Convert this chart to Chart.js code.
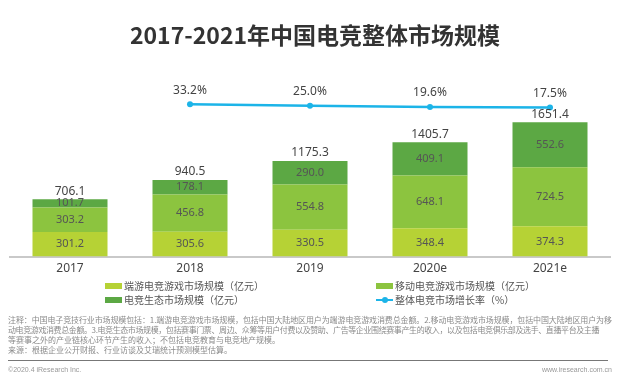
<!DOCTYPE html>
<html>
<head>
<meta charset="utf-8">
<script src="https://cdn.jsdelivr.net/npm/chart.js@4/dist/chart.umd.min.js"></script>
<style>
  html, body { margin: 0; padding: 0; background: #fff; }
  #page { position: relative; width: 627px; height: 392px; overflow: hidden; font-family: "Noto Sans CJK SC", "Noto Sans", sans-serif; }
  #chart { position: absolute; left: 0; top: 0; }
  .title { position: absolute; left: 0; width: 630px; top: 17px; text-align: center; font-size: 23px; font-weight: bold; color: #333; line-height: 34px; }
  .lg { position: absolute; font-size: 10px; color: #555; line-height: 12px; white-space: nowrap; }
  .lg i { display: inline-block; width: 17px; height: 6px; vertical-align: middle; margin-right: 2px; position: relative; top: -1px; }
  .lg i.ln { height: 2px; background: #1cb4e8; }
  .lg i.ln:after { content: ""; position: absolute; left: 6px; top: -2px; width: 6px; height: 6px; border-radius: 3px; background: #1cb4e8; }
  .note { position: absolute; left: 8px; font-size: 8px; color: #8a8a8a; line-height: 10px; white-space: nowrap; }
  .sep { position: absolute; left: 8px; width: 600px; top: 360px; border-top: 1.5px solid #777; }
  .foot { position: absolute; top: 366px; font-size: 7px; color: #999; font-family: "Liberation Sans", sans-serif; }
</style>
</head>
<body>
<div id="page">
  <canvas id="chart" width="627" height="392"></canvas>
  <div class="title">2017-2021年中国电竞整体市场规模</div>

  <div class="lg" style="left:105px; top:280px;"><i style="background:#b6d235"></i>端游电竞游戏市场规模（亿元）</div>
  <div class="lg" style="left:376px; top:280px;"><i style="background:#8cc43f"></i>移动电竞游戏市场规模（亿元）</div>
  <div class="lg" style="left:105px; top:294px;"><i style="background:#5ca844"></i>电竞生态市场规模（亿元）</div>
  <div class="lg" style="left:376px; top:294px;"><i class="ln"></i>整体电竞市场增长率（%）</div>

  <div class="note" style="top:315px; letter-spacing:-0.12px;">注释：中国电子竞技行业市场规模包括：1.端游电竞游戏市场规模，包括中国大陆地区用户为端游电竞游戏消费总金额。2.移动电竞游戏市场规模，包括中国大陆地区用户为移</div>
  <div class="note" style="top:325px; letter-spacing:-0.4px;">动电竞游戏消费总金额。3.电竞生态市场规模，包括赛事门票、周边、众筹等用户付费以及赞助、广告等企业围绕赛事产生的收入，以及包括电竞俱乐部及选手、直播平台及主播</div>
  <div class="note" style="top:335px;">等赛事之外的产业链核心环节产生的收入；不包括电竞教育与电竞地产规模。</div>
  <div class="note" style="top:345px;">来源：根据企业公开财报、行业访谈及艾瑞统计预测模型估算。</div>
  <div class="sep"></div>
  <div class="foot" style="left:8px;">©2020.4 iResearch Inc.</div>
  <div class="foot" style="right:15px;">www.iresearch.com.cn</div>
</div>
<script>
// data
const years = ['2017', '2018', '2019', '2020e', '2021e'];
const pcGame = [301.2, 305.6, 330.5, 348.4, 374.3];      // 端游电竞游戏市场规模
const mobileGame = [303.2, 456.8, 554.8, 648.1, 724.5];  // 移动电竞游戏市场规模
const ecosystem = [101.7, 178.1, 290.0, 409.1, 552.6];   // 电竞生态市场规模
const totals = [706.1, 940.5, 1175.3, 1405.7, 1651.4];
const growth = [null, 33.2, 25.0, 19.6, 17.5];           // 整体电竞市场增长率 (%)

const COLORS = {
    pc: '#b6d235',
    mobile: '#8cc43f',
    eco: '#5ca844',
    line: '#1cb4e8',
    text: '#555'
};
const FONT = '"Noto Sans", "Noto Sans CJK SC", sans-serif';

// value labels: inside segments, totals on top, percentages above the line
const valueLabels = {
    id: 'valueLabels',
    afterDatasetsDraw(chart) {
        const ctx = chart.ctx;
        ctx.save();
        ctx.textAlign = 'center';
        ctx.textBaseline = 'middle';

        ctx.font = '11px ' + FONT;
        ctx.fillStyle = COLORS.text;
        for (let di = 0; di < 3; di++) {
            const meta = chart.getDatasetMeta(di);
            meta.data.forEach((bar, i) => {
                const v = chart.data.datasets[di].data[i];
                ctx.fillText(v.toFixed(1), bar.x, (bar.y + bar.base) / 2);
            });
        }

        ctx.font = '12px ' + FONT;
        ctx.fillStyle = '#444';
        chart.getDatasetMeta(2).data.forEach((bar, i) => {
            ctx.fillText(totals[i].toFixed(1), bar.x, bar.y - 8);
        });

        chart.getDatasetMeta(3).data.forEach((pt, i) => {
            if (growth[i] === null) return;
            ctx.fillText(growth[i].toFixed(1) + '%', pt.x, pt.y - 14);
        });
        ctx.restore();
    }
};

new Chart(document.getElementById('chart'), {
    data: {
        labels: years,
        datasets: [
            { type: 'bar', label: '端游电竞游戏市场规模（亿元）', data: pcGame, backgroundColor: COLORS.pc, yAxisID: 'y', order: 2 },
            { type: 'bar', label: '移动电竞游戏市场规模（亿元）', data: mobileGame, backgroundColor: COLORS.mobile, yAxisID: 'y', order: 2 },
            { type: 'bar', label: '电竞生态市场规模（亿元）', data: ecosystem, backgroundColor: COLORS.eco, yAxisID: 'y', order: 2 },
            {
                type: 'line', label: '整体电竞市场增长率（%）', data: growth, yAxisID: 'y2', order: 1,
                borderColor: COLORS.line, backgroundColor: COLORS.line, borderWidth: 2.5,
                pointRadius: 3, pointBackgroundColor: COLORS.line, pointBorderWidth: 0, spanGaps: false
            }
        ]
    },
    options: {
        responsive: false,
        animation: false,
        layout: { padding: { top: 80, left: 10, right: 17, bottom: 111 } },
        datasets: { bar: { barPercentage: 0.625, categoryPercentage: 1 } },
        plugins: {
            legend: { display: false },
            tooltip: { enabled: false },
            title: { display: false }
        },
        scales: {
            x: {
                stacked: true,
                grid: { display: false, drawTicks: false },
                border: { display: true, color: '#c9c9c9', width: 2 },
                ticks: { color: '#444', font: { size: 12, family: FONT }, padding: 5 }
            },
            y: { stacked: true, display: false, min: 0, max: 2170 },
            y2: { display: false, min: -715, max: 152 }
        }
    },
    plugins: [valueLabels]
});
</script>
</body>
</html>
